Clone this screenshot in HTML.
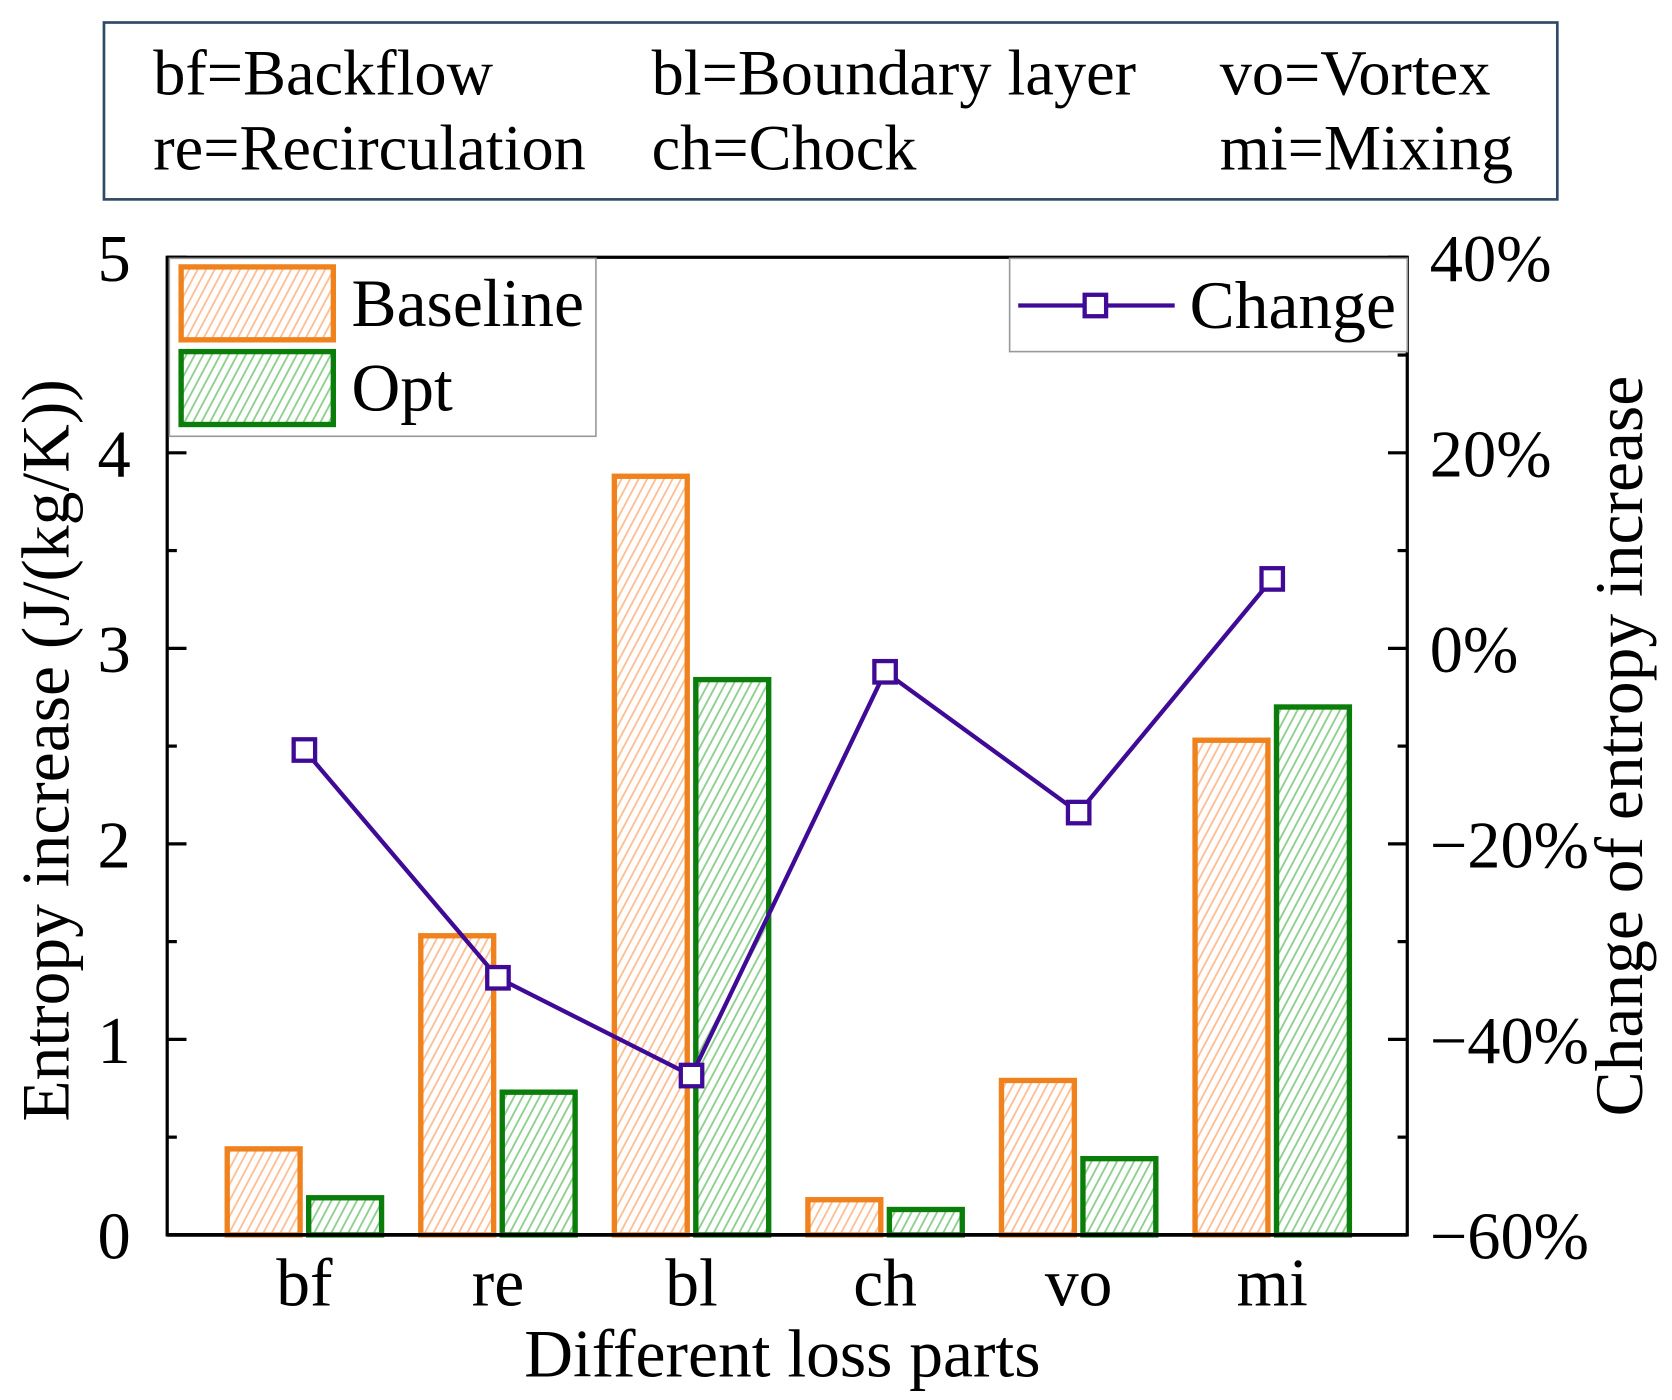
<!DOCTYPE html>
<html><head><meta charset="utf-8"><style>
html,body{margin:0;padding:0;background:#fff;}
svg{display:block;}
svg text{font-family:"Liberation Serif","Times New Roman",serif;}
</style></head><body>
<svg id="chart" width="1672" height="1400" viewBox="0 0 1560 1306" preserveAspectRatio="none" xmlns="http://www.w3.org/2000/svg" font-family="Liberation Serif, serif">
<defs>
<pattern id="hatchO" width="7" height="7" patternUnits="userSpaceOnUse" patternTransform="rotate(28)"><rect width="7" height="7" fill="#fff"/><line x1="0" y1="0" x2="0" y2="7" stroke="#ffbf95" stroke-width="3.5"/></pattern>
<pattern id="hatchG" width="7" height="7" patternUnits="userSpaceOnUse" patternTransform="rotate(28)"><rect width="7" height="7" fill="#fff"/><line x1="0" y1="0" x2="0" y2="7" stroke="#8fd08f" stroke-width="3.5"/></pattern>
</defs>
<g>
<rect x="97" y="21" width="1356" height="165" fill="#fff" stroke="#2f4a66" stroke-width="2.5"/>
<g font-size="60" fill="#000">
<text x="143" y="88">bf=Backflow</text>
<text x="608" y="88">bl=Boundary layer</text>
<text x="1138" y="88">vo=Vortex</text>
<text x="143" y="158">re=Recirculation</text>
<text x="608" y="158">ch=Chock</text>
<text x="1138" y="158">mi=Mixing</text>
</g></g>
<g id="axes"></g>
<g id="bars"></g>
<g id="line"></g>
<g>
<rect x="158" y="241" width="398" height="166" fill="#fff" stroke="#999" stroke-width="1.5"/>
<rect x="169" y="249" width="142" height="68" fill="url(#hatchO)" stroke="#f0821e" stroke-width="5"/>
<text x="328" y="304" font-size="63">Baseline</text>
<rect x="169" y="328" width="142" height="68" fill="url(#hatchG)" stroke="#0a7d0a" stroke-width="5"/>
<text x="328" y="383" font-size="63">Opt</text>
</g>
<g>
<rect x="942" y="241" width="371" height="87" fill="#fff" stroke="#999" stroke-width="1.5"/>
<line x1="950" y1="285" x2="1096" y2="285" stroke="#3f0a96" stroke-width="4"/>
<rect x="1012" y="275" width="20" height="20" fill="#fff" stroke="#3f0a96" stroke-width="4"/>
<text x="1110" y="306" font-size="63">Change</text>
</g>
<text transform="translate(64,700) rotate(-90)" text-anchor="middle" font-size="63">Entropy increase (J/(kg/K))</text>
<text transform="translate(1532,696) rotate(-90)" text-anchor="middle" font-size="63">Change of entropy increase</text>
<text x="730" y="1284" text-anchor="middle" font-size="63">Different loss parts</text>
</svg>
<script>
const categories = ["bf","re","bl","ch","vo","mi"];
const baseline = [0.44, 1.53, 3.88, 0.18, 0.79, 2.53];
const opt = [0.19, 0.73, 2.84, 0.13, 0.39, 2.70];
const change = [-10.4, -33.7, -43.7, -2.4, -16.8, 7.1];
const leftTicks = ["0","1","2","3","4","5"];
const rightTicks = ["\u221260%","\u221240%","\u221220%","0%","20%","40%"];

const NS = "http://www.w3.org/2000/svg";
const L = 156, R = 1313, T = 240, B = 1152;
const yL = v => B - (v / 5) * (B - T);
const yR = p => B - ((p + 60) / 100) * (B - T);
const xC = i => 284 + i * 180.6;
function mk(tag, attrs, parent){ const e = document.createElementNS(NS, tag); for (const k in attrs) e.setAttribute(k, attrs[k]); parent.appendChild(e); return e; }
const axes = document.getElementById('axes'), bars = document.getElementById('bars'), line = document.getElementById('line');

const fr = mk('rect', {x:L, y:T, width:R-L, height:B-T, fill:'none', stroke:'#000', 'stroke-width':3}, axes);


for (let k = 0; k <= 10; k++) {
  const v = k * 0.5, y = yL(v), len = k % 2 ? 9 : 18;
  mk('line', {x1:L, y1:y, x2:L+len, y2:y, stroke:'#000', 'stroke-width':3}, axes);
  mk('line', {x1:R, y1:y, x2:R-len, y2:y, stroke:'#000', 'stroke-width':3}, axes);
}
leftTicks.forEach((t, i) => {
  const e = mk('text', {x:122, y:yL(i)+22, 'text-anchor':'end', 'font-size':62}, axes);
  e.textContent = t;
  
  
});
rightTicks.forEach((t, i) => {
  const e = mk('text', {x:1334, y:yR(-60 + i*20)+22, 'font-size':62}, axes);
  e.textContent = t;
  
  
});
categories.forEach((c, i) => {
  const e = mk('text', {x:xC(i), y:1218, 'text-anchor':'middle', 'font-size':63}, axes);
  e.textContent = c;
  
  
});
const bw = 68;
categories.forEach((c, i) => {
  const b = mk('rect', {x:xC(i)-38-bw/2, y:yL(baseline[i]), width:bw, height:B-yL(baseline[i]), fill:'url(#hatchO)', stroke:'#f0821e', 'stroke-width':5}, bars);
  
  
  const o = mk('rect', {x:xC(i)+38-bw/2, y:yL(opt[i]), width:bw, height:B-yL(opt[i]), fill:'url(#hatchG)', stroke:'#0a7d0a', 'stroke-width':5}, bars);
  
  
});
mk('line', {x1:L, y1:B, x2:R, y2:B, stroke:'#000', 'stroke-width':3.5}, bars);
const pts = change.map((p, i) => xC(i) + ',' + yR(p)).join(' ');
const pl = mk('polyline', {points:pts, fill:'none', stroke:'#3f0a96', 'stroke-width':4}, line);


change.forEach((p, i) => {
  const m = mk('rect', {x:xC(i)-10, y:yR(p)-10, width:20, height:20, fill:'#fff', stroke:'#3f0a96', 'stroke-width':4}, line);
  
  
});
</script>
</body></html>
